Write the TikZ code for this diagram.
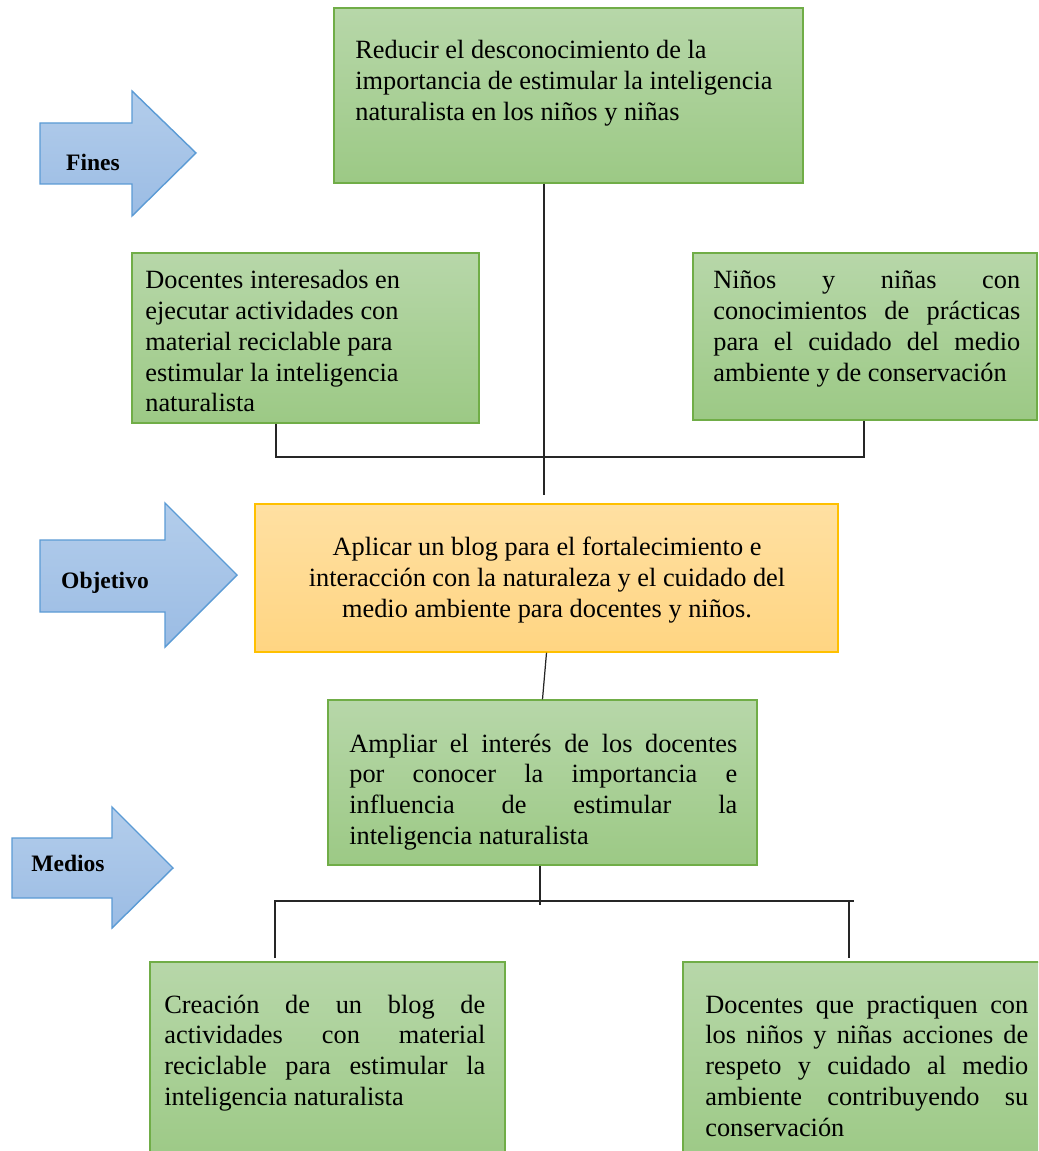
\documentclass[tikz,border=0pt]{standalone}
\usepackage{fontspec}
\setmainfont{Liberation Serif}
\usetikzlibrary{positioning}

\definecolor{greentop}{RGB}{183,215,169}
\definecolor{greenbot}{RGB}{156,201,133}
\definecolor{greenline}{RGB}{112,173,71}
\definecolor{orangetop}{RGB}{255,224,162}
\definecolor{orangebot}{RGB}{255,213,130}
\definecolor{orangeline}{RGB}{255,192,0}
\definecolor{bluetop}{RGB}{179,205,235}
\definecolor{bluebot}{RGB}{155,188,228}
\definecolor{blueline}{RGB}{91,155,213}

\tikzset{
  greenbox/.style={draw=greenline, line width=0.85pt, top color=greentop, bottom color=greenbot},
  orangebox/.style={draw=orangeline, line width=0.85pt, top color=orangetop, bottom color=orangebot},
  bigarrow/.style={draw=blueline, line width=0.8pt, top color=bluetop, bottom color=bluebot},
  boxtext/.style={inner sep=0pt, font=\fontsize{15}{17.6}\selectfont},
  arrowtext/.style={inner sep=0pt, anchor=base, font=\fontsize{13.4}{16}\selectfont\bfseries},
  link/.style={line width=0.7pt, black!85}
}

\begin{document}
\begin{tikzpicture}[x=0.02cm, y=-0.02cm]
  \clip (0,0) rectangle (1038,1151);
  \fill[white] (0,0) rectangle (1038,1151);

  % block arrows on the left
  \draw[bigarrow] (40,123) -- (132,123) -- (132,91) -- (196,153) -- (132,216) -- (132,184) -- (40,184) -- cycle;
  \node[arrowtext] (fines) at (93,171) {Fines};

  \draw[bigarrow] (40,540) -- (165,540) -- (165,503) -- (237,575) -- (165,647) -- (165,612) -- (40,612) -- cycle;
  \node[arrowtext] (objetivo) at (105,588) {Objetivo};

  \draw[bigarrow] (12,838) -- (112,838) -- (112,807) -- (173,868) -- (112,928) -- (112,898) -- (12,898) -- cycle;
  \node[arrowtext] (medios) at (68,871) {Medios};

  % fines
  \node[greenbox, minimum width=9.38cm, minimum height=3.5cm] (finA) at (568.5,95.5) {};
  \node[boxtext, anchor=north west, align=left] (finAtxt) at (355,36.3)
    {\strut Reducir el desconocimiento de la\\importancia de estimular la inteligencia\\naturalista en los niños y niñas};

  \node[greenbox, minimum width=6.94cm, minimum height=3.4cm] (finB) at (305.5,338) {};
  \node[boxtext, anchor=north west, align=left] (finBtxt) at (145,266.3)
    {\strut Docentes interesados en\\ejecutar actividades con\\material reciclable para\\estimular la inteligencia\\naturalista};

  \node[greenbox, minimum width=6.88cm, minimum height=3.34cm] (finC) at (865,336.5) {};
  \node[boxtext, anchor=north west, text width=6.14cm, align=justify] (finCtxt) at (713,266.3)
    {\strut Niños y niñas con\linebreak conocimientos de prácticas\linebreak para el cuidado del medio\linebreak ambiente y de conservación};

  % objetivo
  \node[orangebox, minimum width=11.66cm, minimum height=2.96cm] (obj) at (546.5,578) {};
  \node[boxtext, anchor=north, align=center] (objtxt) at (547,534)
    {\strut Aplicar un blog para el fortalecimiento e\\interacción con la naturaleza y el cuidado del\\medio ambiente para docentes y niños.};

  % medios
  \node[greenbox, minimum width=8.58cm, minimum height=3.3cm] (medE) at (542.5,782.5) {};
  \node[boxtext, anchor=north west, text width=7.76cm, align=justify] (medEtxt) at (349,730)
    {\strut Ampliar el interés de los docentes\linebreak por conocer la importancia e\linebreak influencia de estimular la\linebreak inteligencia naturalista};

  \node[greenbox, minimum width=7.1cm, minimum height=4.06cm] (medF) at (327.5,1063.5) {};
  \node[boxtext, anchor=north west, text width=6.42cm, align=justify] (medFtxt) at (164,991)
    {\strut Creación de un blog de\linebreak actividades con material\linebreak reciclable para estimular la\linebreak inteligencia naturalista};

  \node[greenbox, minimum width=7.24cm, minimum height=4.06cm] (medG) at (864,1063.5) {};
  \node[boxtext, anchor=north west, text width=6.46cm, align=justify] (medGtxt) at (705,991)
    {\strut Docentes que practiquen con\linebreak los niños y niñas acciones de\linebreak respeto y cuidado al medio\linebreak ambiente contribuyendo su\linebreak conservación};

  % connectors
  \coordinate (topend) at (544,495);
  \coordinate (bl) at (276,457);
  \coordinate (br) at (864,457);
  \draw[link] (finA.south -| topend) -- (topend);
  \draw[link] (finB.south -| bl) -- (bl) -- (br) -- (finC.south -| br);
  \draw[link] (obj.south) -- (medE.north);

  \coordinate (midend) at (540,905);
  \coordinate (ml) at (275,901);
  \coordinate (mr) at (854,901);
  \coordinate (fl) at (275,958);
  \coordinate (gr) at (849,958);
  \draw[link] (medE.south -| midend) -- (midend);
  \draw[link] (fl) -- (ml) -- (mr);
  \draw[link] (gr |- mr) -- (gr);
\end{tikzpicture}
\end{document}
